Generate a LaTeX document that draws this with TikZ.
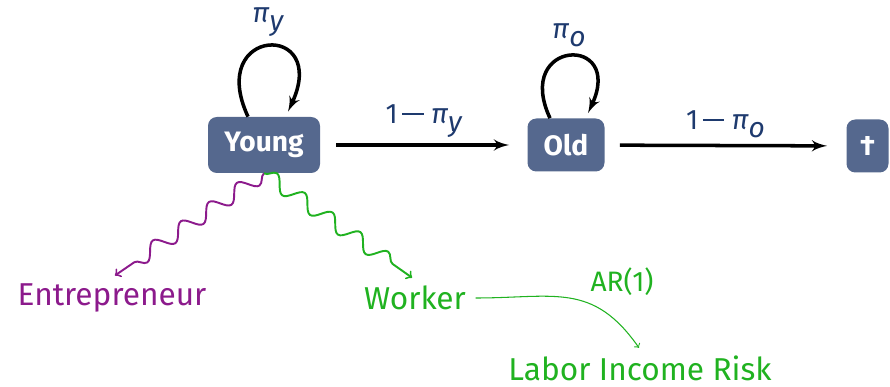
\documentclass[tikz,border=0pt]{standalone}
\usepackage{fontspec}
\setmainfont{Fira Sans}
\usetikzlibrary{shapes,arrows,decorations.pathmorphing}

\definecolor{starecol}{HTML}{55688E}
\definecolor{probcol}{HTML}{1E3A6E}
\definecolor{antrepcol}{HTML}{8C1A8C}
\definecolor{muncitorcol}{HTML}{20B220}

\newcommand{\prob}[1]{\textit{π}\raisebox{-0.55ex}{\itshape #1}}
\newcommand{\minus}{\rule[0.3em]{0.75em}{0.07em}}

\begin{document}
\begin{tikzpicture}[auto, node distance=1cm,>=latex',
    stare/.style={rectangle, fill=starecol, rounded corners=5pt, text=white, font=\bfseries\fontsize{16}{19}\selectfont, minimum height=1.06cm},
    eticheta/.style={text=probcol, font=\fontsize{16}{19}\selectfont},
    tranzitie/.style={->, line width=2pt},
    ocupatie/.style={font=\fontsize{18}{22}\selectfont},
    val/.style={decorate, decoration={snake, amplitude=0.15cm, segment length=0.68cm, post length=0.3cm}, line width=1.1pt, -to}]

  \useasboundingbox (0,0) rectangle (17.8,-7.74);

  % Stari
  \node [stare, minimum width=2.24cm, minimum height=1.12cm] (young) at (5.28,-2.90) {Young};
  \node [stare, right of=young, node distance=6.04cm, minimum width=1.54cm] (old) {Old};
  \node [stare, minimum width=0.84cm] (dead) at (17.35,-2.92) {†};

  % Tranzitii
  \draw [tranzitie] ([xshift=-0.32cm]young.north) .. controls +(115:2cm) and +(65:2cm) .. ([xshift=0.48cm, yshift=0.1cm]young.north) node [eticheta, midway, above=1pt] {\prob{y}};
  \draw [tranzitie] ([xshift=-0.32cm]old.north) .. controls +(115:1.75cm) and +(65:1.75cm) .. ([xshift=0.44cm, yshift=0.1cm]old.north) node [eticheta, midway, above=1pt] {\prob{o}};
  \draw [tranzitie, shorten <=0.32cm, shorten >=0.36cm] (young) -- node [eticheta, above] {1\,\minus\;\prob{y}} (old);
  \draw [tranzitie, shorten <=0.3cm, shorten >=0.38cm] (old) -- node [eticheta, above] {1\,\minus\;\prob{o}} (dead);

  % Ocupatii
  \node [ocupatie, text=antrepcol, below of=young, node distance=3.06cm, xshift=-3.04cm] (entrepreneur) {Entrepreneur};
  \node [ocupatie, text=muncitorcol, below of=young, node distance=3.06cm, xshift=3.02cm] (worker) {Worker};
  \node [ocupatie, text=muncitorcol, below of=worker, node distance=1.4cm, xshift=4.5cm] (risk) {Labor Income Risk};

  % Legaturi
  \draw [val, draw=antrepcol, shorten >=2pt] (young.south) -- (entrepreneur.north);
  \draw [val, draw=muncitorcol, shorten >=2pt] (young.south) -- (worker.north);
  \draw [-to, muncitorcol, line width=0.6pt, shorten <=2pt, shorten >=1pt] (worker.east) to [out=0, in=125, looseness=1.2] node [pos=0.6, above right, font=\fontsize{16}{19}\selectfont] {AR(1)} (risk.north);

\end{tikzpicture}
\end{document}
